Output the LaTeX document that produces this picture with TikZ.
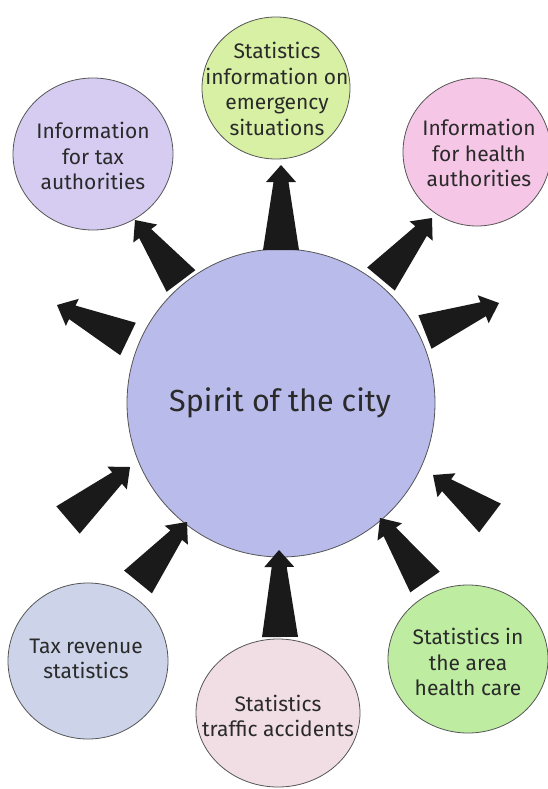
\documentclass[tikz,border=0pt]{standalone}
\usepackage{fontspec}
\setmainfont{Fira Sans}
\usetikzlibrary{calc}
\definecolor{spclav}{HTML}{D6CCF2}
\definecolor{spcgreen}{HTML}{D8F0A4}
\definecolor{spcpink}{HTML}{F5C6E6}
\definecolor{spcblue}{HTML}{B9BBEA}
\definecolor{spcgrey}{HTML}{CDD4EA}
\definecolor{spcrose}{HTML}{F0DEE4}
\definecolor{spcleaf}{HTML}{BEEDA2}
\definecolor{spcink}{HTML}{1A1A1A}
\definecolor{spctext}{HTML}{2A2A2A}

% tapered block arrow from a base point to a tip point
\newcommand{\fatarrow}[2]{%
  \fill[spcink]
    ($(#1)!18pt!90:(#2)$) --
    ($(#2)!17pt!(#1)!7.5pt!-90:(#1)$) --
    ($(#2)!17pt!(#1)!15pt!-90:(#1)$) --
    (#2) --
    ($(#2)!17pt!(#1)!15pt!90:(#1)$) --
    ($(#2)!17pt!(#1)!7.5pt!90:(#1)$) --
    ($(#1)!18pt!-90:(#2)$) -- cycle;}

\begin{document}
\begin{tikzpicture}[
  x=1pt, y=-1pt,
  disc/.style={draw=spctext!80, line width=0.8pt},
  bubble/.style={align=center, text=spctext, font=\fontsize{21}{25.5}\selectfont},
]
\useasboundingbox (0,0) rectangle (547,789);

% ---------------- bubbles -------------------------------------------
\path[disc, fill=spcblue] (281,403) ellipse (154 and 154);
\node[text=spctext, font=\fontsize{30.5}{34}\selectfont] (spirit) at (280,403) {Spirit of the city};

\path[disc, fill=spclav] (93,154) ellipse (80 and 76);
\node[bubble] (taxinfo) at (93,156) {Information\\for tax\\authorities};

\path[disc, fill=spcgreen] (276,88) ellipse (74 and 71);
\node[bubble] (emerg) at (277,89) {Statistics\\information on\\emergency\\situations};

\path[disc, fill=spcpink] (477,152) ellipse (74 and 74);
\node[bubble] (health) at (479,153) {Information\\for health\\authorities};

\path[disc, fill=spcgrey] (88,661) ellipse (80 and 78);
\node[bubble] (taxrev) at (86,659) {Tax revenue\\statistics};

\path[disc, fill=spcrose] (278,713) ellipse (82 and 74);
\node[bubble] (traffic) at (278,716) {Statistics\\traffic accidents};

\path[disc, fill=spcleaf] (468,659) ellipse (80 and 74);
\node[bubble] (care) at (468,662) {Statistics in\\the area\\health care};

% ---------------- arrows --------------------------------------------
\coordinate (b1) at (181,281);  \coordinate (t1) at (135,220);
\coordinate (b2) at (128,339);  \coordinate (t2) at (57,305);
\coordinate (b3) at (281,250);  \coordinate (t3) at (281,165);
\coordinate (b4) at (381,279);  \coordinate (t4) at (432,218);
\coordinate (b5) at (425,332);  \coordinate (t5) at (499,303);
\coordinate (b6) at (490,518);  \coordinate (t6) at (433,475);
\coordinate (b7) at (425,582);  \coordinate (t7) at (380,518);
\coordinate (b8) at (280,637);  \coordinate (t8) at (279,550);
\coordinate (b9) at (138,582);  \coordinate (t9) at (187,522);
\coordinate (b10) at (68,520);  \coordinate (t10) at (130,467);

\foreach \i in {1,...,10} {\fatarrow{b\i}{t\i}}

\end{tikzpicture}
\end{document}
